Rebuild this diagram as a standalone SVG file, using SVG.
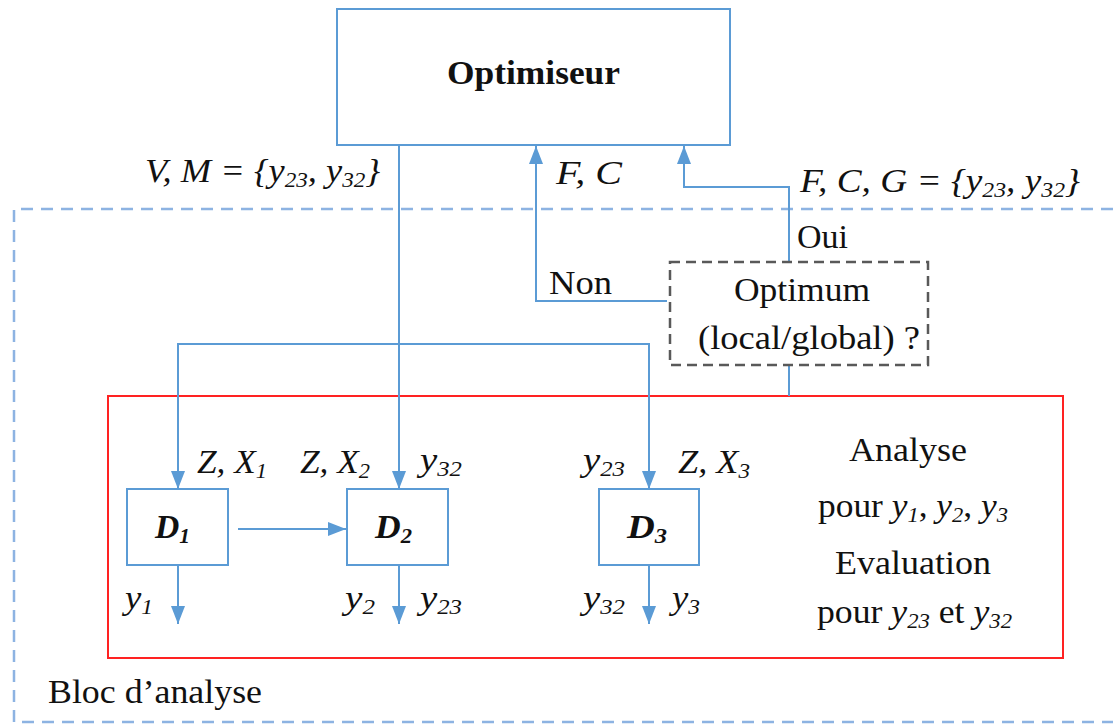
<svg xmlns="http://www.w3.org/2000/svg" width="1113" height="725" viewBox="0 0 1113 725">
<style>
.t{font-family:"Liberation Serif","Times New Roman","DejaVu Serif","Noto Serif",serif;font-size:33px;fill:#111}
.it{font-style:italic}
.b{font-weight:bold}
.m{text-anchor:middle}
.sub{font-size:21px}
.ln{fill:none;stroke:#5B9BD5;stroke-width:2}
.box{fill:#fff;stroke:#5B9BD5;stroke-width:2}
</style>
<defs>
<marker id="arr" viewBox="0 0 18 14" markerWidth="18" markerHeight="14" refX="18" refY="7" orient="auto" markerUnits="userSpaceOnUse">
<path d="M0,0 L18,7 L0,14 z" fill="#5B9BD5"/>
</marker>
</defs>
<rect width="1113" height="725" fill="#fff"/>
<g id="bloc-analyse">
<path d="M1113,209 H14 V722 H1113" fill="none" stroke="#8DB3E2" stroke-width="2.5" stroke-dasharray="12,8"/>
<text x="48" y="703" class="t" textLength="214" lengthAdjust="spacingAndGlyphs">Bloc d’analyse</text>
</g>
<g id="analyse-box">
<rect x="108" y="396" width="955" height="262" fill="none" stroke="#F22" stroke-width="2"/>
<text x="849" y="461" class="t" textLength="118" lengthAdjust="spacingAndGlyphs">Analyse</text>
<text x="818" y="517" class="t" textLength="190" lengthAdjust="spacingAndGlyphs">pour <tspan class="it">y</tspan><tspan class="it sub" dy="5">1</tspan><tspan dy="-5">, </tspan><tspan class="it">y</tspan><tspan class="it sub" dy="5">2</tspan><tspan dy="-5">, </tspan><tspan class="it">y</tspan><tspan class="it sub" dy="5">3</tspan></text>
<text x="835" y="574" class="t" textLength="156" lengthAdjust="spacingAndGlyphs">Evaluation</text>
<text x="817" y="623" class="t" textLength="195" lengthAdjust="spacingAndGlyphs">pour <tspan class="it">y</tspan><tspan class="it sub" dy="5">23</tspan><tspan dy="-5"> et </tspan><tspan class="it">y</tspan><tspan class="it sub" dy="5">32</tspan></text>
</g>
<g id="connectors">
<path class="ln" d="M399,145 V489" marker-end="url(#arr)"/>
<path class="ln" d="M667,301 H536 V146" marker-end="url(#arr)"/>
<path class="ln" d="M789,262 V187 H684 V146" marker-end="url(#arr)"/>
<path class="ln" d="M789,365 V396"/>
<path class="ln" d="M399,344 H178 V489" marker-end="url(#arr)"/>
<path class="ln" d="M399,344 H649 V489" marker-end="url(#arr)"/>
<path class="ln" d="M238,529 H346" marker-end="url(#arr)"/>
<path class="ln" d="M178,565 V624" marker-end="url(#arr)"/>
<path class="ln" d="M399,565 V624" marker-end="url(#arr)"/>
<path class="ln" d="M649,565 V624" marker-end="url(#arr)"/>
</g>
<g id="optimiseur">
<rect class="box" x="337" y="9" width="393" height="136"/>
<text x="447" y="84" class="t b" textLength="173" lengthAdjust="spacingAndGlyphs">Optimiseur</text>
</g>
<g id="optimum">
<rect x="670" y="262" width="258" height="103" fill="#fff" stroke="#595959" stroke-width="2.5" stroke-dasharray="10,6"/>
<text x="734" y="301" class="t" textLength="136" lengthAdjust="spacingAndGlyphs">Optimum</text>
<text x="698" y="349" class="t" textLength="222" lengthAdjust="spacingAndGlyphs">(local/global) ?</text>
</g>
<g id="d1">
<rect class="box" x="127" y="489" width="101" height="76"/>
<text x="155" y="538" class="t it b" textLength="35" lengthAdjust="spacingAndGlyphs">D<tspan class="sub" dy="5">1</tspan></text>
</g>
<g id="d2">
<rect class="box" x="347" y="489" width="101" height="76"/>
<text x="375" y="538" class="t it b" textLength="37" lengthAdjust="spacingAndGlyphs">D<tspan class="sub" dy="5">2</tspan></text>
</g>
<g id="d3">
<rect class="box" x="599" y="489" width="100" height="76"/>
<text x="627" y="538" class="t it b" textLength="40" lengthAdjust="spacingAndGlyphs">D<tspan class="sub" dy="5">3</tspan></text>
</g>
<g id="labels">
<text x="145" y="182" class="t it" textLength="235" lengthAdjust="spacingAndGlyphs">V, M = {y<tspan class="sub" dy="5">23</tspan><tspan dy="-5">, y</tspan><tspan class="sub" dy="5">32</tspan><tspan dy="-5">}</tspan></text>
<text x="556" y="184" class="t it" textLength="66" lengthAdjust="spacingAndGlyphs">F, C</text>
<text x="800" y="192" class="t it" textLength="280" lengthAdjust="spacingAndGlyphs">F, C, G = {y<tspan class="sub" dy="5">23</tspan><tspan dy="-5">, y</tspan><tspan class="sub" dy="5">32</tspan><tspan dy="-5">}</tspan></text>
<text x="797" y="248" class="t" textLength="51" lengthAdjust="spacingAndGlyphs">Oui</text>
<text x="549" y="294" class="t" textLength="63" lengthAdjust="spacingAndGlyphs">Non</text>
<text x="197" y="473" class="t it" textLength="70" lengthAdjust="spacingAndGlyphs">Z, X<tspan class="sub" dy="5">1</tspan></text>
<text x="300" y="473" class="t it" textLength="70" lengthAdjust="spacingAndGlyphs">Z, X<tspan class="sub" dy="5">2</tspan></text>
<text x="420" y="471" class="t it" textLength="42" lengthAdjust="spacingAndGlyphs">y<tspan class="sub" dy="5">32</tspan></text>
<text x="583" y="471" class="t it" textLength="42" lengthAdjust="spacingAndGlyphs">y<tspan class="sub" dy="5">23</tspan></text>
<text x="678" y="473" class="t it" textLength="72" lengthAdjust="spacingAndGlyphs">Z, X<tspan class="sub" dy="5">3</tspan></text>
<text x="125" y="609" class="t it" textLength="28" lengthAdjust="spacingAndGlyphs">y<tspan class="sub" dy="5">1</tspan></text>
<text x="345" y="609" class="t it" textLength="30" lengthAdjust="spacingAndGlyphs">y<tspan class="sub" dy="5">2</tspan></text>
<text x="420" y="609" class="t it" textLength="42" lengthAdjust="spacingAndGlyphs">y<tspan class="sub" dy="5">23</tspan></text>
<text x="583" y="609" class="t it" textLength="42" lengthAdjust="spacingAndGlyphs">y<tspan class="sub" dy="5">32</tspan></text>
<text x="672" y="609" class="t it" textLength="28" lengthAdjust="spacingAndGlyphs">y<tspan class="sub" dy="5">3</tspan></text>
</g>
</svg>
